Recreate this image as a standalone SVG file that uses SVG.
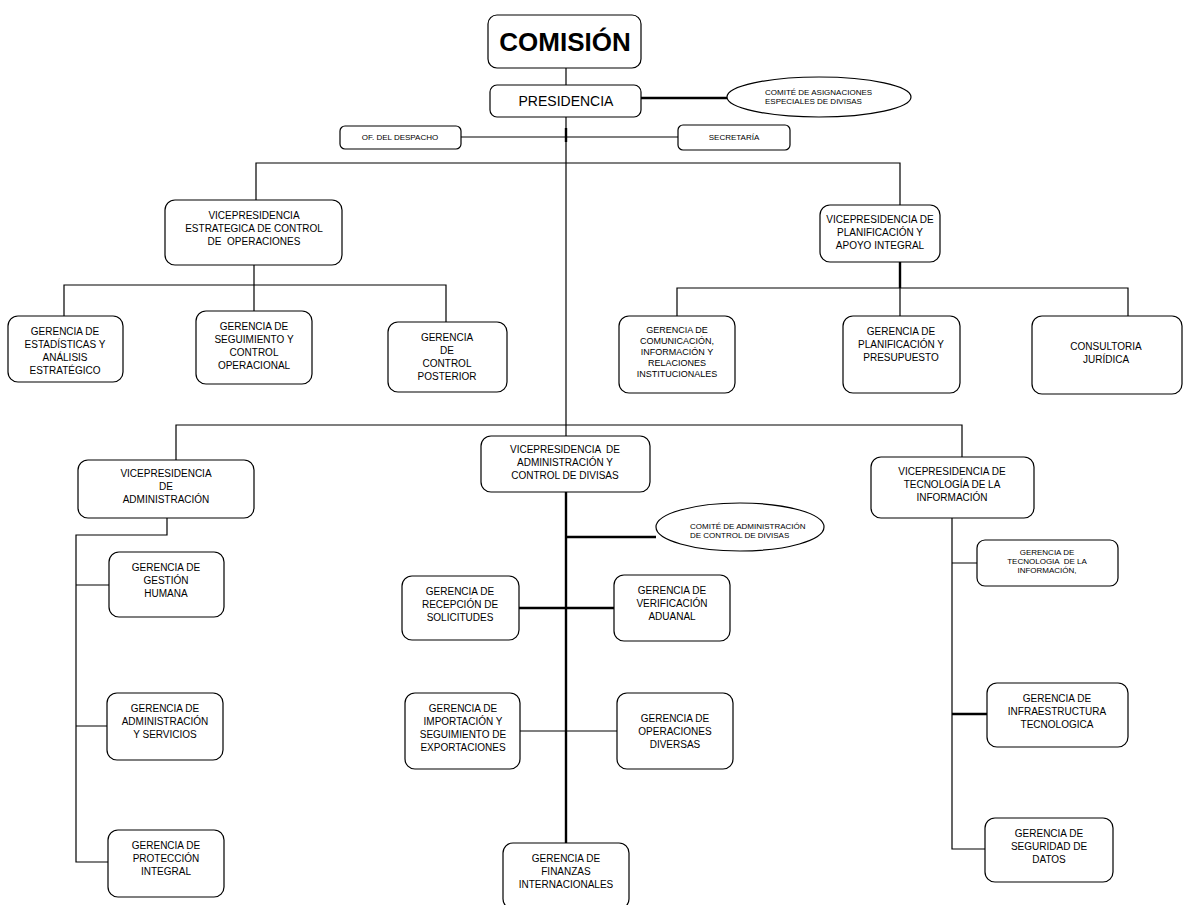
<svg xmlns="http://www.w3.org/2000/svg" width="1183" height="905" viewBox="0 0 1183 905">
<style>
.b{fill:#fff;stroke:#000;stroke-width:1.2}
.t{font-family:"Liberation Sans",Arial,sans-serif;font-size:10px;fill:#000;text-anchor:middle;white-space:pre}
.s{font-family:"Liberation Sans",Arial,sans-serif;font-size:8px;fill:#000;white-space:pre}
.c{fill:none;stroke:#000;stroke-width:1.2}
.k{fill:none;stroke:#000;stroke-width:2.4}
</style>
<rect width="1183" height="905" fill="#fff"/>
<g id="connectors">
<path class="c" d="M566 68V85"/>
<path class="k" d="M641 98H727"/>
<path class="c" d="M566 117V437"/>
<path class="k" d="M566 128V142"/>
<path class="c" d="M461 137H678"/>
<path class="c" d="M256 200V163H900V205"/>
<path class="c" d="M254 265V285M64 316V285H446V322M254 285V311"/>
<path class="k" d="M900 262V288"/>
<path class="c" d="M677 316V288H1128V316M900 288V316"/>
<path class="c" d="M176 460V425H962V457"/>
<path class="c" d="M167 518V535H76V862H108M76 585H109M76 726H107"/>
<path class="k" d="M566 492V843"/>
<path class="k" d="M566 537H656"/>
<path class="k" d="M519 608H614"/>
<path class="c" d="M520 731H617"/>
<path class="c" d="M952 518V849H985M952 563H977"/>
<path class="k" d="M952 714H987"/>
</g>
<g id="comision"><rect class="b" x="488" y="15" width="153" height="53" rx="9"/><text x="565" y="51" style="font-family:'Liberation Sans',Arial,sans-serif;font-size:26px;font-weight:bold;text-anchor:middle">COMISIÓN</text></g>
<g id="presidencia"><rect class="b" x="490" y="85" width="151" height="32" rx="7"/><text x="566" y="106" class="t" style="font-size:14px">PRESIDENCIA</text></g>
<g id="comite-asignaciones"><ellipse class="b" cx="819" cy="97" rx="92" ry="20"/><text class="s" x="765" y="95">COMITÉ DE ASIGNACIONES</text><text class="s" x="765" y="104">ESPECIALES DE DIVISAS</text></g>
<g id="despacho"><rect class="b" x="340" y="126" width="121" height="23" rx="5"/><text class="s" x="400" y="140" text-anchor="middle">OF. DEL DESPACHO</text></g>
<g id="secretaria"><rect class="b" x="678" y="125" width="112" height="25" rx="5"/><text class="s" x="734" y="140" text-anchor="middle">SECRETARÍA</text></g>
<g id="vp-estrategica"><rect class="b" x="165" y="200" width="177" height="65" rx="10"/><text class="t" x="254" y="219">VICEPRESIDENCIA</text><text class="t" x="254" y="232">ESTRATEGICA DE CONTROL</text><text class="t" x="254" y="245">DE  OPERACIONES</text></g>
<g id="vp-planificacion"><rect class="b" x="820" y="205" width="120" height="57" rx="10"/><text class="t" x="880" y="223">VICEPRESIDENCIA DE</text><text class="t" x="880" y="236">PLANIFICACIÓN Y</text><text class="t" x="880" y="249">APOYO INTEGRAL</text></g>
<g id="g-estadisticas"><rect class="b" x="8" y="316" width="115" height="66" rx="10"/><text class="t" x="65" y="335">GERENCIA DE</text><text class="t" x="65" y="348">ESTADÍSTICAS Y</text><text class="t" x="65" y="361">ANÁLISIS</text><text class="t" x="65" y="374">ESTRATÉGICO</text></g>
<g id="g-seguimiento"><rect class="b" x="196" y="311" width="116" height="73" rx="10"/><text class="t" x="254" y="330">GERENCIA DE</text><text class="t" x="254" y="343">SEGUIMIENTO Y</text><text class="t" x="254" y="356">CONTROL</text><text class="t" x="254" y="369">OPERACIONAL</text></g>
<g id="g-posterior"><rect class="b" x="388" y="322" width="119" height="70" rx="10"/><text class="t" x="447" y="341">GERENCIA</text><text class="t" x="447" y="354">DE</text><text class="t" x="447" y="367">CONTROL</text><text class="t" x="447" y="380">POSTERIOR</text></g>
<g id="g-comunicacion"><rect class="b" x="619" y="316" width="116" height="77" rx="10"/><text class="t" x="677" y="333" style="font-size:9px">GERENCIA DE</text><text class="t" x="677" y="344" style="font-size:9px">COMUNICACIÓN,</text><text class="t" x="677" y="355" style="font-size:9px">INFORMACIÓN Y</text><text class="t" x="677" y="366" style="font-size:9px">RELACIONES</text><text class="t" x="677" y="377" style="font-size:9px">INSTITUCIONALES</text></g>
<g id="g-planificacion"><rect class="b" x="843" y="316" width="117" height="77" rx="10"/><text class="t" x="901" y="335">GERENCIA DE</text><text class="t" x="901" y="348">PLANIFICACIÓN Y</text><text class="t" x="901" y="361">PRESUPUESTO</text></g>
<g id="g-juridica"><rect class="b" x="1032" y="316" width="150" height="78" rx="10"/><text class="t" x="1106" y="350">CONSULTORIA</text><text class="t" x="1106" y="363">JURÍDICA</text></g>
<g id="vp-administracion"><rect class="b" x="78" y="460" width="176" height="58" rx="10"/><text class="t" x="166" y="477">VICEPRESIDENCIA</text><text class="t" x="166" y="490">DE</text><text class="t" x="166" y="503">ADMINISTRACIÓN</text></g>
<g id="vp-divisas"><rect class="b" x="481" y="436" width="169" height="56" rx="10"/><text class="t" x="565" y="453">VICEPRESIDENCIA  DE</text><text class="t" x="565" y="466">ADMINISTRACIÓN Y</text><text class="t" x="565" y="479">CONTROL DE DIVISAS</text></g>
<g id="vp-tecnologia"><rect class="b" x="871" y="457" width="163" height="61" rx="10"/><text class="t" x="952" y="475">VICEPRESIDENCIA DE</text><text class="t" x="952" y="488">TECNOLOGÍA DE LA</text><text class="t" x="952" y="501">INFORMACIÓN</text></g>
<g id="g-humana"><rect class="b" x="109" y="552" width="115" height="65" rx="10"/><text class="t" x="166" y="571">GERENCIA DE</text><text class="t" x="166" y="584">GESTIÓN</text><text class="t" x="166" y="597">HUMANA</text></g>
<g id="g-servicios"><rect class="b" x="107" y="693" width="116" height="67" rx="10"/><text class="t" x="165" y="712">GERENCIA DE</text><text class="t" x="165" y="725">ADMINISTRACIÓN</text><text class="t" x="165" y="738">Y SERVICIOS</text></g>
<g id="g-proteccion"><rect class="b" x="108" y="830" width="116" height="67" rx="10"/><text class="t" x="166" y="849">GERENCIA DE</text><text class="t" x="166" y="862">PROTECCIÓN</text><text class="t" x="166" y="875">INTEGRAL</text></g>
<g id="comite-administracion"><ellipse class="b" cx="740" cy="527" rx="84" ry="24"/><text class="s" x="690" y="529">COMITÉ DE ADMINISTRACIÓN</text><text class="s" x="690" y="538">DE CONTROL DE DIVISAS</text></g>
<g id="g-recepcion"><rect class="b" x="402" y="576" width="117" height="64" rx="10"/><text class="t" x="460" y="595">GERENCIA DE</text><text class="t" x="460" y="608">RECEPCIÓN DE</text><text class="t" x="460" y="621">SOLICITUDES</text></g>
<g id="g-verificacion"><rect class="b" x="614" y="575" width="116" height="66" rx="10"/><text class="t" x="672" y="594">GERENCIA DE</text><text class="t" x="672" y="607">VERIFICACIÓN</text><text class="t" x="672" y="620">ADUANAL</text></g>
<g id="g-importacion"><rect class="b" x="405" y="693" width="115" height="76" rx="10"/><text class="t" x="463" y="712">GERENCIA DE</text><text class="t" x="463" y="725">IMPORTACIÓN Y</text><text class="t" x="463" y="738">SEGUIMIENTO DE</text><text class="t" x="463" y="751">EXPORTACIONES</text></g>
<g id="g-operaciones"><rect class="b" x="617" y="693" width="116" height="76" rx="10"/><text class="t" x="675" y="722">GERENCIA DE</text><text class="t" x="675" y="735">OPERACIONES</text><text class="t" x="675" y="748">DIVERSAS</text></g>
<g id="g-finanzas"><rect class="b" x="503" y="843" width="126" height="66" rx="10"/><text class="t" x="566" y="862">GERENCIA DE</text><text class="t" x="566" y="875">FINANZAS</text><text class="t" x="566" y="888">INTERNACIONALES</text></g>
<g id="g-ti"><rect class="b" x="977" y="540" width="141" height="46" rx="8"/><text class="t" x="1047" y="555" style="font-size:8px">GERENCIA DE</text><text class="t" x="1047" y="564" style="font-size:8px">TECNOLOGIA  DE LA</text><text class="t" x="1047" y="573" style="font-size:8px">INFORMACIÓN,</text></g>
<g id="g-infraestructura"><rect class="b" x="987" y="683" width="141" height="64" rx="10"/><text class="t" x="1057" y="702">GERENCIA DE</text><text class="t" x="1057" y="715">INFRAESTRUCTURA</text><text class="t" x="1057" y="728">TECNOLOGICA</text></g>
<g id="g-seguridad"><rect class="b" x="985" y="818" width="128" height="64" rx="10"/><text class="t" x="1049" y="837">GERENCIA DE</text><text class="t" x="1049" y="850">SEGURIDAD DE</text><text class="t" x="1049" y="863">DATOS</text></g>
</svg>
